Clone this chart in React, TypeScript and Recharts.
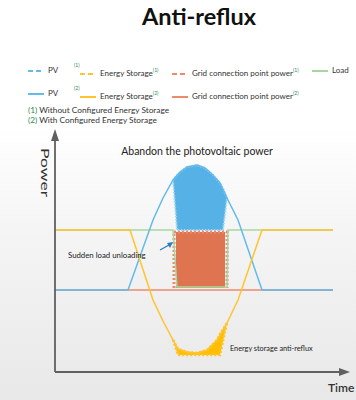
import React from "react";
import {
  ComposedChart, Line, Area, XAxis, YAxis, ReferenceDot, ReferenceLine,
} from "recharts";

// picture-space units: time 0..285, power 0..232
const timeDomain = [0, 285];
const powerDomain = [0, 232];

const pvTime = [0, 73, 98, 108, 118, 125, 132, 142, 150, 158, 165, 172, 183, 207, 278];
const pvPower = [82, 82, 152, 174, 192, 200, 205, 207, 204, 197, 189, 174, 152, 82, 82];

const storageTime = [0, 75, 98, 108, 118, 123, 132, 142, 152, 162, 172, 183, 207, 278];
const storagePower = [142, 142, 72, 51, 32, 23, 20, 19, 22, 32, 49, 72, 142, 142];

const loadTime = [0, 118, 122, 172, 173, 278];
const loadPower = [142, 142, 85, 85, 142, 142];

const gridTime = [0, 278];
const gridPower = [82, 82];

const gridNoStorageTime = [119, 119, 172, 172];
const gridNoStoragePower = [84, 140, 140, 84];

// clipped PV (abandoned)
const domeTime = [118, 122, 125, 132, 142, 150, 158, 165, 168, 172];
const domeLow = [192, 142, 142, 142, 142, 142, 142, 142, 142, 174];
const domeHigh = [192, 197, 200, 205, 207, 204, 197, 189, 184, 174];

// grid export block
const blockTime = [121, 170];
const blockLow = [84, 84];
const blockHigh = [140, 140];

// storage anti-reflux
const troughTime = [118, 123, 132, 142, 152, 162, 165, 172];
const troughLow = [32, 17, 17, 17, 17, 17, 17, 49];
const troughHigh = [32, 23, 20, 19, 22, 32, 38, 49];

const series = (t: number[], p: number[]) => t.map((x, i) => ({ t: x, p: p[i] }));
const ranged = (t: number[], lo: number[], hi: number[]) =>
  t.map((x, i) => ({ t: x, r: [lo[i], hi[i]] }));

const FONT = "Lato, 'Noto Sans', sans-serif";
const BLUE = "#62bbea";
const BLUE_FILL = "#56b1e6";
const YELLOW = "#ffc42e";
const RED = "#ee8a6c";
const ORANGE = "#df7550";
const GREEN = "#a6d79f";
const AXIS = "#606060";

const Swatch = ({ color, dashed }: { color: string; dashed?: boolean }) => (
  <svg width={16} height={4} style={{ verticalAlign: "middle", marginRight: 4 }}>
    <line x1={0} y1={2} x2={16} y2={2} stroke={color} strokeWidth={2}
      strokeDasharray={dashed ? "5 3" : undefined} />
  </svg>
);

const Sup = ({ n }: { n: number }) => (
  <span style={{ color: "#2e8b57", fontSize: 5, verticalAlign: "super" }}>({n})</span>
);

const Item = ({ x, y, color, dashed, label, pre, sup }: any) => (
  <div style={{ position: "absolute", left: x, top: y, fontSize: 8, color: "#333", whiteSpace: "nowrap", lineHeight: "10px" }}>
    {pre && <span style={{ position: "absolute", left: -6, top: -5 }}><Sup n={pre} /></span>}
    <Swatch color={color} dashed={dashed} />
    {label}
    {sup && <Sup n={sup} />}
  </div>
);

const textShape = (txt: string, size: number, opts: any = {}) => (p: any) => (
  <text x={p.cx} y={p.cy} fontSize={size} fill="#222" fontFamily={FONT} {...opts}>{txt}</text>
);

export default function App() {
  return (
    <div style={{
      position: "absolute", left: 0, top: 0, width: 356, height: 400, fontFamily: FONT,
      background: "linear-gradient(to bottom, #fff 0%, #fff 32%, #f4f4f4 60%, #e8e8e8 100%)",
    }}>
      <div style={{ position: "absolute", left: 0, top: 2, width: 356, paddingLeft: 42, boxSizing: "border-box", textAlign: "center", fontSize: 23.5, fontWeight: 700, color: "#111" }}>
        Anti-reflux
      </div>

      <Item x={28} y={65} color={BLUE} dashed label="PV" />
      <Item x={80} y={65} color={YELLOW} dashed label="Energy Storage" pre={1} sup={1} />
      <Item x={172} y={65} color={RED} dashed label="Grid connection point power" sup={1} />
      <Item x={312} y={65} color={GREEN} label="Load" />
      <Item x={28} y={88} color={BLUE} label="PV" />
      <Item x={80} y={88} color={YELLOW} label="Energy Storage" pre={2} sup={2} />
      <Item x={172} y={88} color={RED} label="Grid connection point power" sup={2} />
      <div style={{ position: "absolute", left: 28, top: 105, fontSize: 8.3, color: "#333", lineHeight: "10px" }}>
        <div><span style={{ color: "#2e8b57" }}>(1)</span> Without Configured Energy Storage</div>
        <div><span style={{ color: "#2e8b57" }}>(2)</span> With Configured Energy Storage</div>
      </div>

      <ComposedChart width={356} height={400} margin={{ top: 140, right: 16, bottom: 28, left: 55 }}
        style={{ position: "absolute", left: 0, top: 0 }}>
        <XAxis type="number" dataKey="t" domain={timeDomain} height={0} tick={false} tickLine={false}
          axisLine={false} allowDataOverflow />
        <YAxis type="number" domain={powerDomain} width={0} tick={false} tickLine={false}
          axisLine={false} allowDataOverflow />

        <Area data={ranged(domeTime, domeLow, domeHigh)} dataKey="r" type="linear"
          fill={BLUE_FILL} fillOpacity={1} stroke="#9fd6f2" strokeWidth={2} strokeDasharray="1.5 1.5"
          isAnimationActive={false} />
        <Line data={series(gridNoStorageTime, gridNoStoragePower)} dataKey="p" type="linear"
          stroke={RED} strokeWidth={3} strokeDasharray="2 2" dot={false} isAnimationActive={false} />
        <Area data={ranged(blockTime, blockLow, blockHigh)} dataKey="r" type="linear"
          fill={ORANGE} fillOpacity={1} stroke="none" isAnimationActive={false} />
        <Area data={ranged(troughTime, troughLow, troughHigh)} dataKey="r" type="linear"
          fill="#ffbf00" fillOpacity={1} stroke={YELLOW} strokeWidth={2.5} strokeDasharray="2 2"
          isAnimationActive={false} />

        <Line data={series(gridTime, gridPower)} dataKey="p" type="linear" stroke={RED}
          strokeWidth={1.5} dot={false} isAnimationActive={false} />
        <Line data={series(loadTime, loadPower)} dataKey="p" type="linear" stroke={GREEN}
          strokeWidth={1.5} dot={false} isAnimationActive={false} />
        <Line data={series(pvTime, pvPower)} dataKey="p" type="linear" stroke={BLUE}
          strokeWidth={1.5} dot={false} isAnimationActive={false} />
        <Line data={series(storageTime, storagePower)} dataKey="p" type="linear" stroke={YELLOW}
          strokeWidth={1.5} dot={false} isAnimationActive={false} />

        <ReferenceLine x={0} stroke={AXIS} strokeWidth={1.8} ifOverflow="visible" />
        <ReferenceLine y={0} stroke={AXIS} strokeWidth={1.8} ifOverflow="visible" />
        <ReferenceDot x={0} y={232} ifOverflow="visible" shape={(p: any) => (
          <path d={`M${p.cx - 4},${p.cy + 1} L${p.cx},${p.cy - 11} L${p.cx + 4},${p.cy + 1} Z`} fill={AXIS} />
        )} />
        <ReferenceDot x={285} y={0} ifOverflow="visible" shape={(p: any) => (
          <path d={`M${p.cx - 1},${p.cy - 4} L${p.cx + 10},${p.cy} L${p.cx - 1},${p.cy + 4} Z`} fill={AXIS} />
        )} />

        <ReferenceDot x={142} y={217} ifOverflow="visible"
          shape={textShape("Abandon the photovoltaic power", 10.5, { textAnchor: "middle" })} />
        <ReferenceDot x={13} y={114} ifOverflow="visible"
          shape={textShape("Sudden load unloading", 7.8)} />
        <ReferenceDot x={175} y={21} ifOverflow="visible"
          shape={textShape("Energy storage anti-reflux", 7.3)} />
        <ReferenceDot x={-14} y={224} ifOverflow="visible" shape={(p: any) => (
          <text x={p.cx} y={p.cy} fontSize={12} fill="#333" fontFamily={FONT} textLength={49}
            lengthAdjust="spacingAndGlyphs" transform={`rotate(90 ${p.cx} ${p.cy})`}>Power</text>
        )} />
        <ReferenceDot x={273} y={-20} ifOverflow="visible"
          shape={textShape("Time", 12, { fill: "#333", fontWeight: 600 })} />
        <ReferenceDot x={105} y={122} ifOverflow="visible" shape={(p: any) => (
          <g>
            <line x1={p.cx} y1={p.cy} x2={p.cx + 9} y2={p.cy - 5} stroke="#2a7fc0" strokeWidth={1.3} />
            <path d={`M${p.cx + 13},${p.cy - 8} L${p.cx + 7},${p.cy - 7} L${p.cx + 10},${p.cy - 2} Z`} fill="#2a7fc0" />
          </g>
        )} />
      </ComposedChart>
    </div>
  );
}
